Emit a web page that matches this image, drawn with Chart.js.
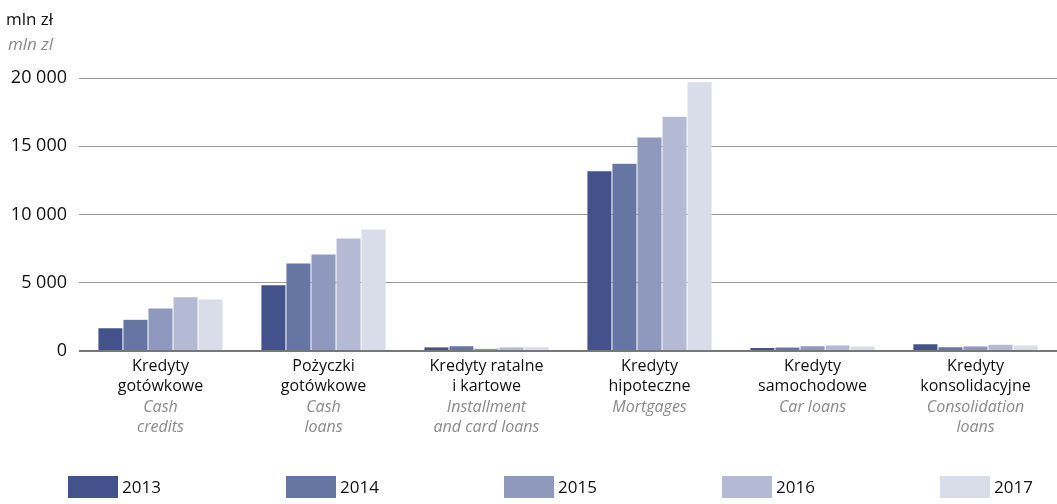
<!DOCTYPE html>
<html>
<head>
<meta charset="utf-8">
<script src="https://cdn.jsdelivr.net/npm/chart.js@4/dist/chart.umd.min.js"></script>
<style>
  html, body { margin: 0; padding: 0; background: #fff; }
  #wrap { width: 1057px; height: 504px; }
</style>
</head>
<body>
<div id="wrap"><canvas id="loansChart"></canvas></div>
<script>
// dane
const years = ['2013', '2014', '2015', '2016', '2017'];
const categoriesPl = [
    ['Kredyty', 'gotówkowe'],
    ['Pożyczki', 'gotówkowe'],
    ['Kredyty ratalne', 'i kartowe'],
    ['Kredyty', 'hipoteczne'],
    ['Kredyty', 'samochodowe'],
    ['Kredyty', 'konsolidacyjne']
];
const categoriesEn = [
    ['Cash', 'credits'],
    ['Cash', 'loans'],
    ['Installment', 'and card loans'],
    ['Mortgages'],
    ['Car loans'],
    ['Consolidation', 'loans']
];
const values2013 = [1700, 4850, 300, 13200, 250, 540];
const values2014 = [2320, 6450, 380, 13750, 290, 320];
const values2015 = [3150, 7100, 200, 15680, 390, 370];
const values2016 = [3980, 8280, 300, 17200, 440, 490];
const values2017 = [3810, 8940, 320, 19730, 370, 440];
const yTicks = [0, 5000, 10000, 15000, 20000];
const unitPl = 'mln zł';
const unitEn = 'mln zl';

const colors = ['#43528b', '#6676a3', '#8e99bd', '#b4b9d4', '#d9dce9'];
const FONT = '"Open Sans", "Noto Sans", sans-serif';

function fmt(v) {
    return String(v).replace(/\B(?=(\d{3})+(?!\d))/g, ' ');
}

// opisy osi x, jednostka i legenda rysowane recznie
const extraText = {
    id: 'extraText',
    afterDraw(chart) {
        const ctx = chart.ctx;
        const x = chart.scales.x;
        ctx.save();
        ctx.textBaseline = 'middle';

        // jednostka
        ctx.textAlign = 'left';
        ctx.fillStyle = '#111';
        ctx.font = '17px ' + FONT;
        ctx.fillText(unitPl, 6, 20);
        ctx.fillStyle = '#8a8a8a';
        ctx.font = 'italic 17px ' + FONT;
        ctx.fillText(unitEn, 8, 45);

        // kategorie
        ctx.textAlign = 'center';
        categoriesPl.forEach((lines, i) => {
            const cx = x.getPixelForValue(i);
            let y = 366;
            ctx.fillStyle = '#111';
            ctx.font = '16px ' + FONT;
            lines.forEach(t => { ctx.fillText(t, cx, y); y += 20.5; });
            ctx.fillStyle = '#8a8a8a';
            ctx.font = 'italic 16px ' + FONT;
            categoriesEn[i].forEach(t => { ctx.fillText(t, cx, y); y += 20.5; });
        });

        // legenda
        ctx.textAlign = 'left';
        ctx.font = '17px ' + FONT;
        chart.data.datasets.forEach((ds, i) => {
            const bx = 68 + i * 218;
            ctx.fillStyle = ds.backgroundColor;
            ctx.fillRect(bx, 476, 50, 22);
            ctx.fillStyle = '#111';
            ctx.fillText(ds.label, bx + 54, 488);
        });
        ctx.restore();
    }
};

const ctx = document.getElementById('loansChart').getContext('2d');
new Chart(ctx, {
    type: 'bar',
    data: {
        labels: categoriesPl.map(l => l.join(' ')),
        datasets: [values2013, values2014, values2015, values2016, values2017].map((vals, i) => ({
            label: years[i],
            data: vals,
            backgroundColor: colors[i],
            borderColor: 'rgba(255,255,255,0.5)',
            borderWidth: 0.5,
            barPercentage: 1,
            categoryPercentage: 0.768
        }))
    },
    options: {
        responsive: true,
        maintainAspectRatio: false,
        animation: false,
        layout: {
            padding: { top: 78, right: 0, left: 0, bottom: 0 }
        },
        plugins: {
            legend: { display: false },
            tooltip: { enabled: false }
        },
        scales: {
            x: {
                grid: { display: false },
                border: { display: false },
                ticks: { display: false },
                afterFit(scale) { scale.height = 153; }
            },
            y: {
                min: 0,
                max: 20000,
                afterBuildTicks(scale) { scale.ticks = yTicks.map(v => ({ value: v })); },
                afterFit(scale) { scale.width = 79; },
                border: { display: false },
                grid: {
                    drawTicks: false,
                    color: c => c.tick && c.tick.value === 0 ? '#777' : '#9a9a9a',
                    lineWidth: c => c.tick && c.tick.value === 0 ? 2 : 1
                },
                ticks: {
                    padding: 12,
                    color: '#111',
                    font: { family: FONT, size: 18 },
                    callback: v => fmt(v)
                }
            }
        }
    },
    plugins: [extraText]
});
</script>
</body>
</html>
